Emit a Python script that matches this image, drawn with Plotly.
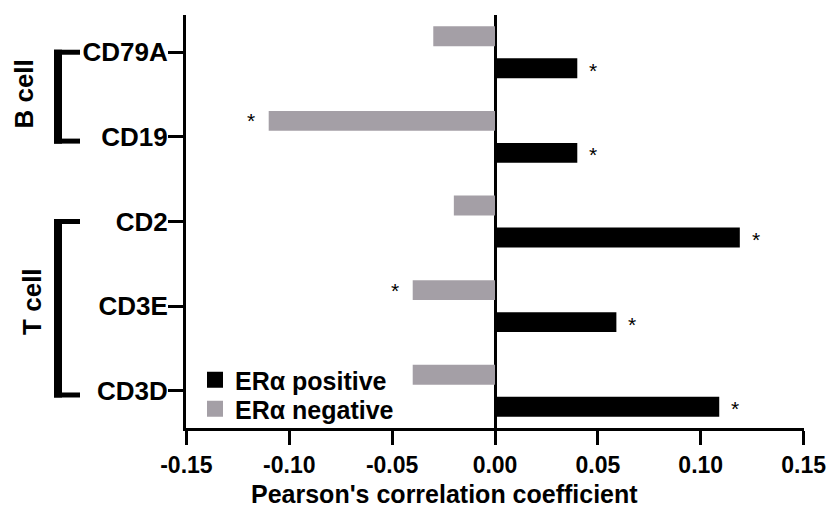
import plotly.graph_objects as go

genes = ["CD79A", "CD19", "CD2", "CD3E", "CD3D"]
er_pos = [0.04, 0.04, 0.119, 0.059, 0.109]
er_neg = [-0.03, -0.11, -0.02, -0.04, -0.04]
pos_sig = [True, True, True, True, True]
neg_sig = [False, True, False, True, False]
x_ticks = [-0.15, -0.10, -0.05, 0.00, 0.05, 0.10, 0.15]
x_ticklabels = ["-0.15", "-0.10", "-0.05", "0.00", "0.05", "0.10", "0.15"]
groups = [("B cell", 0, 1), ("T cell", 2, 4)]

FONT = "Liberation Sans, Arial, Helvetica, sans-serif"
GRAY = "#a49fa6"
L, R, T, B = 186, 24, 15, 81
W, H = 828, 509
PW = W - L - R
PH = H - T - B

fig = go.Figure()
fig.add_trace(go.Bar(y=genes, x=er_neg, orientation="h", name="ERα negative",
                     marker=dict(color=GRAY, line=dict(width=0)), showlegend=False))
fig.add_trace(go.Bar(y=genes, x=er_pos, orientation="h", name="ERα positive",
                     marker=dict(color="black", line=dict(width=0)), showlegend=False))
# legend entries (larger square swatches)
fig.add_trace(go.Scatter(x=[None], y=[None], mode="markers", name="ERα positive",
                         marker=dict(symbol="square", size=16, color="black"), legend="legend"))
fig.add_trace(go.Scatter(x=[None], y=[None], mode="markers", name="ERα negative",
                         marker=dict(symbol="square", size=16, color=GRAY), legend="legend2"))

annotations = []
for g, v, s in zip(genes, er_pos, pos_sig):
    if s:
        annotations.append(dict(x=v, y=g, text="*", showarrow=False, xshift=16, yshift=-18,
                                font=dict(family=FONT, size=21, color="black")))
for g, v, s in zip(genes, er_neg, neg_sig):
    if s:
        annotations.append(dict(x=v, y=g, text="*", showarrow=False, xshift=-18, yshift=16,
                                font=dict(family=FONT, size=21, color="black")))

shapes = []
xpx = lambda px: (px - L) / float(PW)
ypx = lambda py: (H - B - py) / float(PH)
label_x = {"B cell": 24, "T cell": 32}
for name, i0, i1 in groups:
    shapes.append(dict(type="line", xref="paper", yref="y", x0=xpx(58), x1=xpx(58),
                       y0=i0 - 0.03, y1=i1 + 0.08, line=dict(color="black", width=8)))
    shapes.append(dict(type="line", xref="paper", yref="y", x0=xpx(54), x1=xpx(80),
                       y0=i0, y1=i0, line=dict(color="black", width=5)))
    shapes.append(dict(type="line", xref="paper", yref="y", x0=xpx(54), x1=xpx(80),
                       y0=i1 + 0.05, y1=i1 + 0.05, line=dict(color="black", width=5)))
    annotations.append(dict(xref="paper", yref="y", x=xpx(label_x[name]),
                            y=(i0 + i1) / 2 + (0.0 if name == "B cell" else -0.05),
                            text=name, textangle=-90, showarrow=False,
                            xanchor="center", yanchor="middle",
                            font=dict(family=FONT, size=26, color="black", weight="bold")))

# x-axis title (slightly left of plot centre, as in the original)
annotations.append(dict(xref="paper", yref="paper", x=xpx(444), y=ypx(494),
                        xanchor="center", yanchor="middle", showarrow=False,
                        text="Pearson's correlation coefficient",
                        font=dict(family=FONT, size=25, color="black", weight="bold")))

leg_common = dict(xanchor="left", yanchor="middle", bgcolor="rgba(0,0,0,0)",
                  font=dict(family=FONT, size=25, color="black", weight="bold"),
                  itemwidth=30, itemsizing="trace")

fig.update_layout(
    width=W, height=H,
    margin=dict(l=L, r=R, t=T, b=B, autoexpand=False),
    paper_bgcolor="white", plot_bgcolor="white",
    barmode="group", bargap=0.244, bargroupgap=0.376,
    font=dict(family=FONT, color="black"),
    showlegend=True,
    legend=dict(x=xpx(195), y=ypx(380), **leg_common),
    legend2=dict(x=xpx(195), y=ypx(409), **leg_common),
    annotations=annotations,
    shapes=shapes,
)
fig.update_xaxes(range=[-0.1502, 0.1502], tickvals=x_ticks, ticktext=x_ticklabels,
                 showgrid=False, zeroline=True, zerolinecolor="black", zerolinewidth=3,
                 showline=True, linecolor="black", linewidth=3, automargin=False,
                 ticks="outside", ticklen=14, tickwidth=3, tickcolor="black",
                 ticklabeloverflow="allow",
                 tickfont=dict(family=FONT, size=23, color="black", weight="bold"))
fig.update_yaxes(type="category", categoryorder="array", categoryarray=genes,
                 range=[4.44, -0.44], autorange=False, showgrid=False, zeroline=False,
                 showline=True, linecolor="black", linewidth=3, automargin=False,
                 ticks="outside", ticklen=15, tickwidth=2.5, tickcolor="black",
                 ticklabelstandoff=-5,
                 tickfont=dict(family=FONT, size=26, color="black", weight="bold"))

fig.write_html("out.html")
